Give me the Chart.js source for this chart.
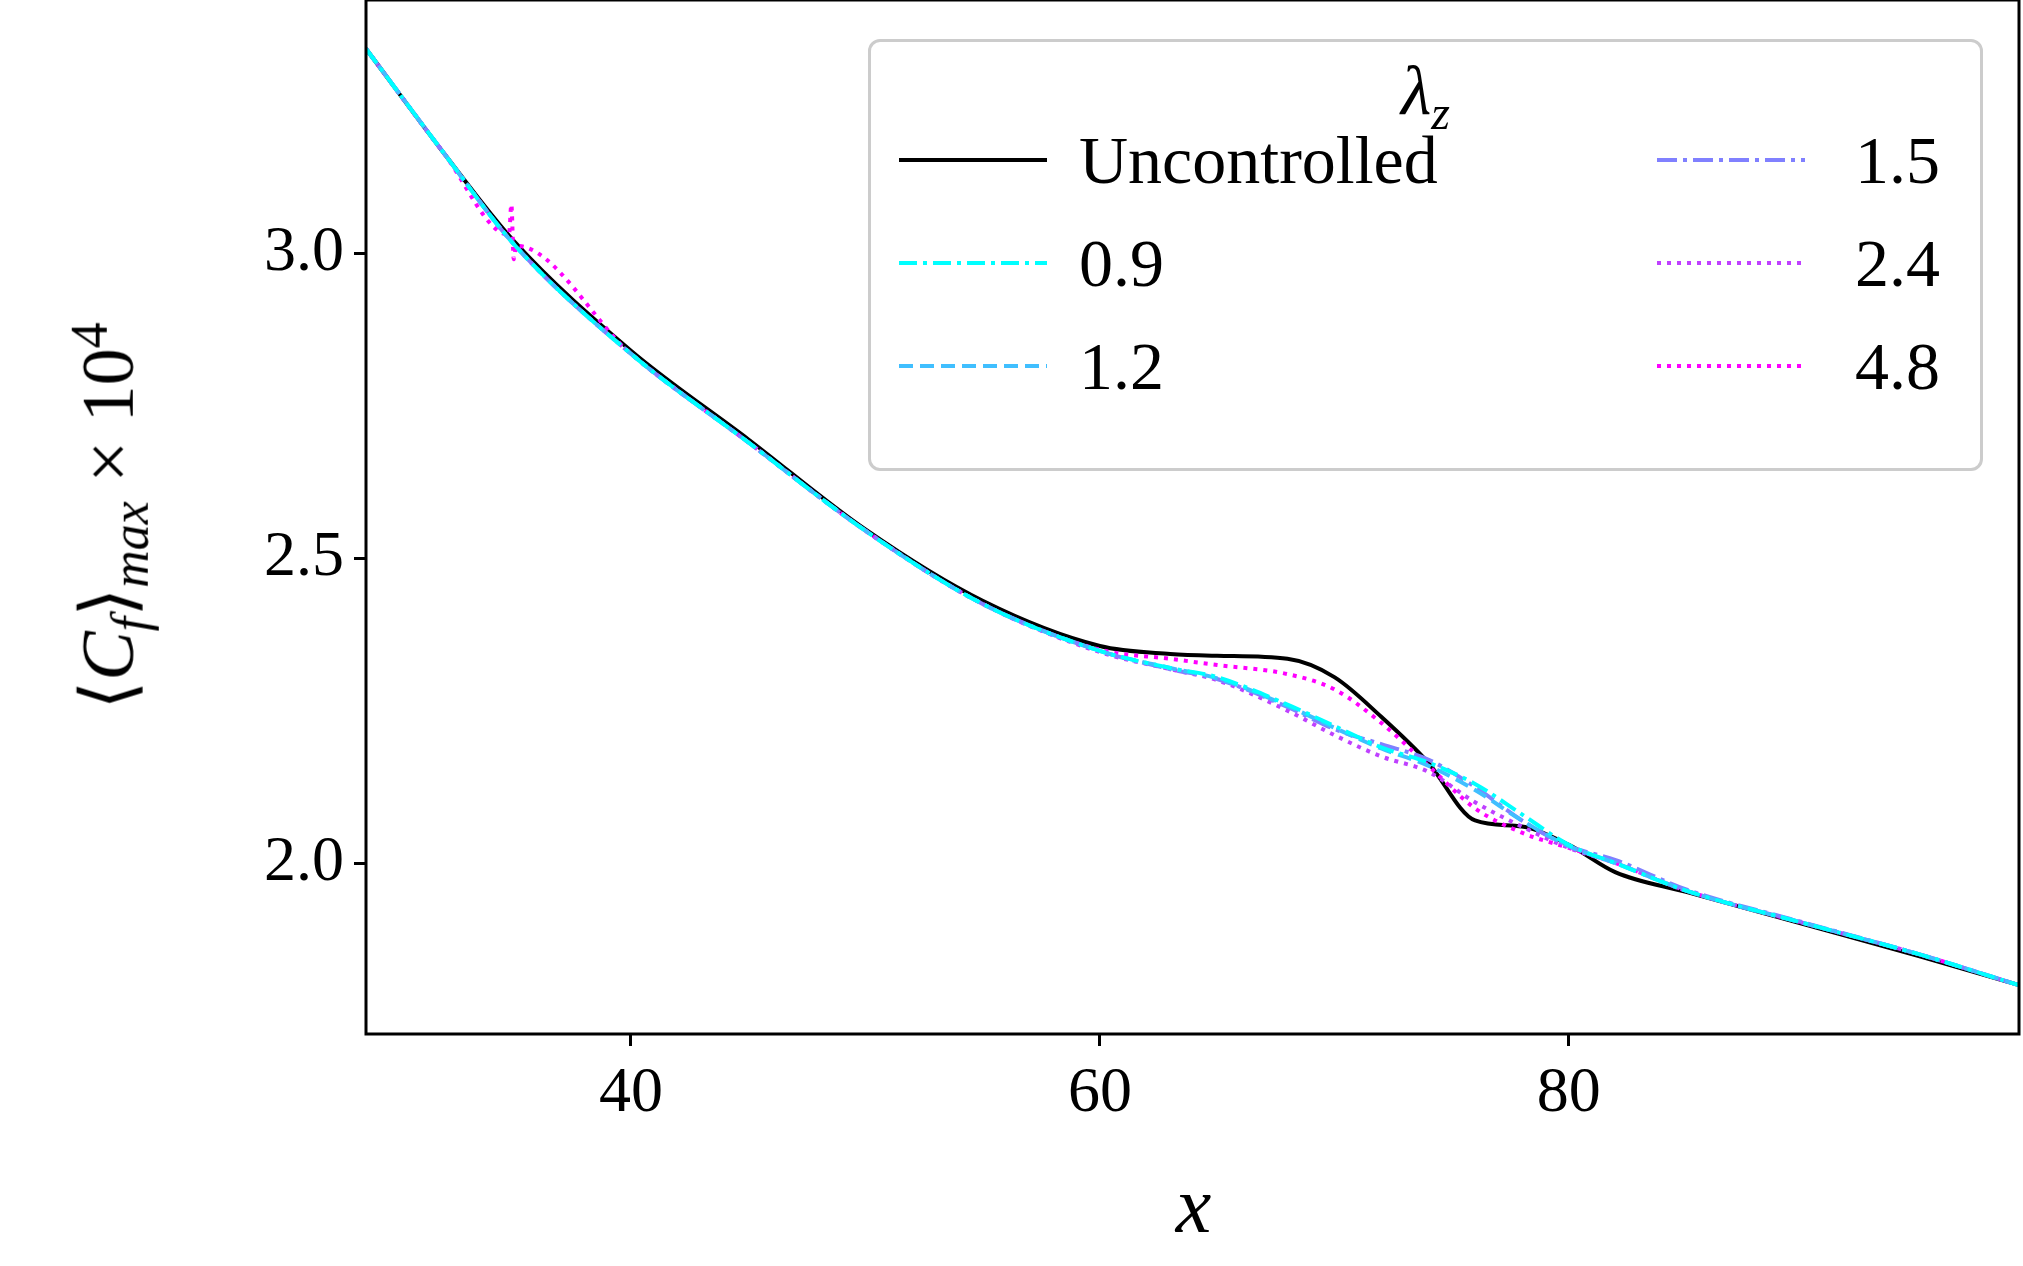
<!DOCTYPE html>
<html><head><meta charset="utf-8">
<script src="https://cdn.jsdelivr.net/npm/chart.js@4"></script>
<style>
body{margin:0;background:#fff;width:2023px;height:1266px;overflow:hidden;font-family:"Liberation Serif",serif;}
#wrap{position:absolute;left:0;top:0;width:2023px;height:1266px;}
.lab{position:absolute;font-family:"Liberation Serif",serif;color:#000;white-space:nowrap;}
#legend{position:absolute;left:868px;top:39px;width:1115px;height:432px;border:3px solid #ccc;border-radius:12px;background:rgba(255,255,255,0.85);box-sizing:border-box;}
</style></head><body>
<div id="wrap"><canvas id="c" width="2023" height="1266"></canvas></div>
<div class="lab" style="left:368px;top:1160px;width:1651px;text-align:center;font-size:80px;line-height:90px;font-style:italic;">x</div>
<div class="lab" style="left:110px;top:516px;font-size:74px;transform:translate(-50%,-50%) rotate(-90deg);">⟨<i>C</i><sub style="font-size:52px"><i>f</i></sub>⟩<sub style="font-size:52px"><i>max</i></sub> × 10<sup style="font-size:52px">4</sup></div>
<div id="legend"></div>
<script>
const xs   = [28.7,32,35,40,45,50,55,60,63,65,68,70,72,74,76,78,80,82,85,90,95,99.2];
const yUnc = [3.335,3.165,3.02,2.84,2.695,2.547,2.43,2.356,2.343,2.34,2.335,2.305,2.24,2.165,2.07,2.06,2.03,1.985,1.953,1.90,1.847,1.80];
const y09  = [3.335,3.165,3.015,2.835,2.69,2.545,2.425,2.348,2.32,2.305,2.26,2.225,2.19,2.165,2.13,2.08,2.03,2.0,1.955,1.902,1.85,1.80];
const y12  = [3.335,3.165,3.015,2.835,2.69,2.545,2.425,2.348,2.32,2.303,2.258,2.222,2.188,2.16,2.12,2.07,2.028,2.0,1.955,1.902,1.85,1.80];
const y15  = [3.335,3.165,3.015,2.835,2.69,2.545,2.425,2.348,2.318,2.302,2.256,2.22,2.195,2.17,2.125,2.07,2.028,2.005,1.957,1.903,1.85,1.80];
const y24  = [3.335,3.165,3.015,2.835,2.69,2.545,2.425,2.346,2.318,2.3,2.25,2.21,2.175,2.15,2.10,2.06,2.025,2.0,1.955,1.902,1.85,1.80];
const xs48 = [28.7,32,34.8,34.9,35,35.1,40,45,50,55,60,63,65,68,70,72,74,76,78,80,82,85,90,95,99.2];
const y48  = [3.335,3.165,3.03,3.08,2.99,3.012,2.835,2.69,2.545,2.425,2.35,2.335,2.325,2.31,2.285,2.23,2.16,2.09,2.05,2.025,2.0,1.955,1.902,1.85,1.80];
const labels = ['Uncontrolled','0.9','1.2','1.5','2.4','4.8'];
const colors = ['#000000','#00ffff','#40bfff','#8080ff','#bf40ff','#ff00ff'];
const dashes = [[],[18,6,4,6],[14,7],[20,6,4,6],[4,6],[4,6]];
const xTicks = [40,60,80];
const yTicks = [2.0,2.5,3.0];

const series=[yUnc,y09,y12,y15,y24,y48];
const datasets=series.map((s,i)=>({label:labels[i],
  data:(i===5?xs48:xs).map((x,j)=>({x:x,y:s[j]})),
  borderColor:colors[i],borderWidth:4,borderDash:dashes[i],pointRadius:0,
  cubicInterpolationMode:'monotone',fill:false,order:i===0?6:i}));
const tickFont={family:'Liberation Serif',size:64};
const box={id:'box',afterDraw(c){const a=c.chartArea,g=c.ctx;g.save();g.strokeStyle='#000';g.lineWidth=3;g.strokeRect(a.left,a.top,a.right-a.left,a.bottom-a.top);g.restore();}};
new Chart(document.getElementById('c'),{type:'line',data:{datasets},
 options:{responsive:false,animation:false,layout:{padding:{top:0,right:4}},
  plugins:{legend:{display:false},tooltip:{enabled:false}},
  scales:{
   x:{type:'linear',min:28.7,max:99.2,afterBuildTicks(s){s.ticks=xTicks.map(v=>({value:v}));},
      afterFit(s){s.height=232;s.paddingTop=0;},
      ticks:{font:tickFont,color:'#000',padding:10},
      grid:{drawOnChartArea:false,tickLength:12,tickWidth:3,color:'#000'},border:{display:false}},
   y:{type:'linear',min:1.72,max:3.415,afterBuildTicks(s){s.ticks=yTicks.map(v=>({value:v}));},
      afterFit(s){s.width=366;s.paddingTop=0;s.paddingBottom=0;},
      ticks:{font:tickFont,color:'#000',padding:10,callback:v=>v.toFixed(1)},
      grid:{drawOnChartArea:false,tickLength:12,tickWidth:3,color:'#000'},border:{display:false}}}},
 plugins:[box]});

// legend
const L=document.getElementById('legend');
let h='<div class="lab" style="left:0;width:100%;top:4px;text-align:center;font-size:70px;line-height:90px;"><i>λ<sub style="font-size:48px">z</sub></i></div>';
const pos=[[0,0],[0,1],[0,2],[1,0],[1,1],[1,2]];
const rowY=[157,260,363];
labels.forEach((l,i)=>{const [c,r]=pos[i];const lx=c?784:26;const y=rowY[r]-39;
 h+=`<svg style="position:absolute;left:${lx}px;top:${y-10}px" width="155" height="20"><line x1="2" y1="10" x2="150" y2="10" stroke="${colors[i]}" stroke-width="4" stroke-dasharray="${dashes[i].join(',')||'none'}"/></svg>`;
 if(c) h+=`<div class="lab" style="right:40px;top:${y-45}px;font-size:68px;line-height:90px;">${l}</div>`;
 else h+=`<div class="lab" style="left:208px;top:${y-45}px;font-size:68px;line-height:90px;">${l}</div>`;});
L.innerHTML=h;
</script></body></html>
